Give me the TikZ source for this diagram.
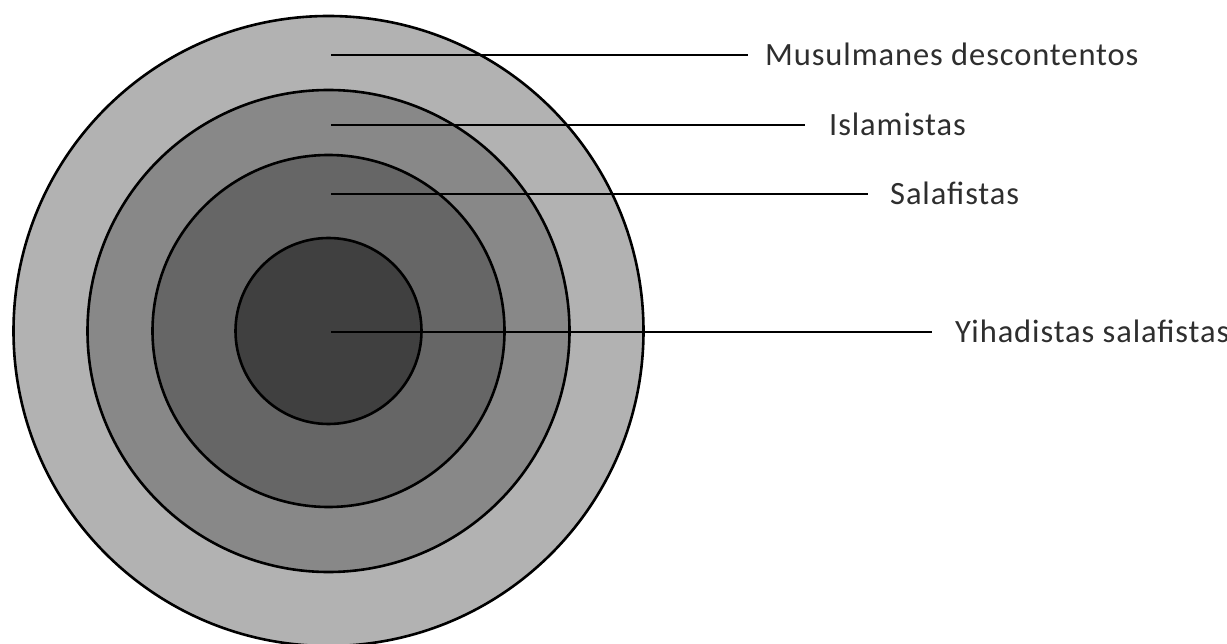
\documentclass[tikz,border=0pt]{standalone}
\usepackage{fontspec}
\setmainfont{Carlito}[LetterSpace=2.8]
\definecolor{ringA}{gray}{0.70}
\definecolor{ringB}{gray}{0.535}
\definecolor{ringC}{gray}{0.40}
\definecolor{ringD}{gray}{0.25}
\definecolor{txt}{gray}{0.18}
\begin{document}
\begin{tikzpicture}[x=1pt,y=-1pt,
  ring/.style={draw=black,line width=2.6pt},
  leader/.style={draw=black,line width=2.6pt},
  lbl/.style={anchor=west,inner sep=0pt,font=\fontsize{32.5}{32.5}\selectfont,text=txt,text height=21pt,text depth=0pt}]
\useasboundingbox (0,0) rectangle (1227,644);
\coordinate (c) at (328.5,331);
\fill[ringA,ring] (c) circle[radius=315];
\fill[ringB,ring] (c) circle[radius=241];
\fill[ringC,ring] (c) circle[radius=176];
\fill[ringD,ring] (c) circle[radius=93];
\coordinate (s1) at (331,55);
\coordinate (s2) at (331,125);
\coordinate (s3) at (331,194);
\coordinate (s4) at (331,332);
\node[lbl] (t1) at (765,55) {Musulmanes descontentos};
\node[lbl] (t2) at (829,125) {Islamistas};
\node[lbl] (t3) at (890,194) {Salafistas};
\node[lbl] (t4) at (955,332) {Yihadistas salafistas};
\draw[leader] (s1) -- ([xshift=-17pt]t1.west);
\draw[leader] (s2) -- ([xshift=-24pt]t2.west);
\draw[leader] (s3) -- ([xshift=-22pt]t3.west);
\draw[leader] (s4) -- ([xshift=-23pt]t4.west);
\end{tikzpicture}
\end{document}
